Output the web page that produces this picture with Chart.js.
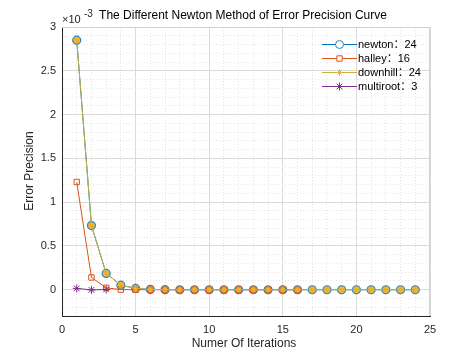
<!DOCTYPE html>
<html><head><meta charset="utf-8">
<script src="https://cdn.jsdelivr.net/npm/chart.js@4"></script>
<style>html,body{margin:0;padding:0;background:#fff}</style>
</head><body>
<canvas id="c" width="474" height="356"></canvas>
<script>
// values in units of 1e-3 (axis shows ×10^-3)
const newtonIter   = [1,2,3,4,5,6,7,8,9,10,11,12,13,14,15,16,17,18,19,20,21,22,23,24];
const newtonErr    = [2.85,0.733,0.186,0.052,0.015,0.003,0.001,0,0,0,0,0,0,0,0,0,0,0,0,0,0,0,0,0];
const halleyIter   = [1,2,3,4,5,6,7,8,9,10,11,12,13,14,15,16];
const halleyErr    = [1.23,0.14,0.022,0.001,0,0,0,0,0,0,0,0,0,0,0,0];
const downhillIter = [1,2,3,4,5,6,7,8,9,10,11,12,13,14,15,16,17,18,19,20,21,22,23,24];
const downhillErr  = [2.85,0.733,0.186,0.052,0.015,0.003,0.001,0,0,0,0,0,0,0,0,0,0,0,0,0,0,0,0,0];
const multirootIter= [1,2,3];
const multirootErr = [0.015,-0.002,0.003];
const seriesLabels = ['newton\uFF1A24','halley\uFF1A16','downhill\uFF1A24','multiroot\uFF1A3'];
const xTickLabels = [0,5,10,15,20,25];
const yTickLabels = [0,0.5,1,1.5,2,2.5,3];

const pts = (xs, ys) => xs.map((x, i) => ({x, y: ys[i]}));
const isMajorX = v => xTickLabels.some(t => Math.abs(t - v) < 1e-6);
const isMajorY = v => yTickLabels.some(t => Math.abs(t - v) < 1e-6) || Math.abs(v + 0.5) < 1e-6;

const legendPlugin = {
  id: 'customDeco',
  afterDraw(chart) {
    const ctx = chart.ctx, a = chart.chartArea;
    ctx.save();
    // top/right box
    ctx.strokeStyle = '#d0d0d0'; ctx.lineWidth = 1;
    ctx.beginPath();
    ctx.moveTo(a.left, a.top + 0.5); ctx.lineTo(a.right - 0.5, a.top + 0.5); ctx.lineTo(a.right - 0.5, a.bottom);
    ctx.stroke();
    // title
    ctx.fillStyle = '#000';
    ctx.font = '12px "Liberation Sans", Arial, sans-serif';
    ctx.textAlign = 'center'; ctx.textBaseline = 'middle';
    ctx.fillText('The Different Newton Method of Error Precision Curve', 243, 16);
    // exponent
    ctx.fillStyle = '#262626';
    ctx.font = '11px "Liberation Sans", Arial, sans-serif';
    ctx.textAlign = 'left';
    ctx.fillText('\u00D710', 62, 20);
    ctx.font = '10px "Liberation Sans", Arial, sans-serif';
    ctx.fillText('-3', 84, 14);
    // axis titles
    ctx.font = '12px "Liberation Sans", Arial, sans-serif';
    ctx.textAlign = 'center';
    ctx.fillText('Numer Of Iterations', 244, 344);
    ctx.save();
    ctx.translate(30, 171); ctx.rotate(-Math.PI / 2);
    ctx.fillText('Error Precision', 0, 0);
    ctx.restore();
    // legend
    const rows = [44.5, 58.5, 72.5, 86.5];
    chart.data.datasets.forEach((ds, i) => {
      const y = rows[i];
      ctx.strokeStyle = ds.borderColor; ctx.lineWidth = 1;
      ctx.beginPath(); ctx.moveTo(322, y); ctx.lineTo(357, y); ctx.stroke();
      ctx.strokeStyle = ds.pointBorderColor; ctx.fillStyle = '#fff';
      Chart.helpers.drawPoint(ctx, {pointStyle: ds.pointStyle, radius: ds.pointRadius, rotation: 0, borderWidth: 1}, 339.5, y);
      ctx.fillStyle = '#000';
      ctx.font = '11px "Liberation Sans", Arial, "Noto Sans CJK SC", sans-serif';
      ctx.textAlign = 'left'; ctx.textBaseline = 'middle';
      ctx.fillText(ds.label, 358, y + 0.5);
    });
    ctx.restore();
  }
};

new Chart(document.getElementById('c'), {
  type: 'line',
  data: {
    datasets: [
      {label: seriesLabels[0], data: pts(newtonIter, newtonErr), borderColor: '#0072BD', borderWidth: 1,
       pointStyle: 'circle', pointRadius: 4, pointBorderColor: '#2E86B8', pointBackgroundColor: '#E2B84E', pointBorderWidth: 1.2, order: 4},
      {label: seriesLabels[1], data: pts(halleyIter, halleyErr), borderColor: '#D95319', borderWidth: 1,
       pointStyle: 'rect', pointRadius: 3.8, pointBorderColor: '#D95319', pointBackgroundColor: 'rgba(0,0,0,0)', pointBorderWidth: 1, order: 3},
      {label: seriesLabels[2], data: pts(downhillIter, downhillErr), borderColor: '#C9B040', borderWidth: 1,
       pointStyle: 'star', pointRadius: 3, pointBorderColor: '#EDB120', pointBackgroundColor: '#EDB120', pointBorderWidth: 1, order: 2},
      {label: seriesLabels[3], data: pts(multirootIter, multirootErr), borderColor: '#7E2F8E', borderWidth: 1,
       pointStyle: 'star', pointRadius: 4, pointBorderColor: '#7E2F8E', pointBackgroundColor: '#7E2F8E', pointBorderWidth: 1, order: 1}
    ]
  },
  options: {
    responsive: false, animation: false, devicePixelRatio: 1,
    layout: {padding: {top: 27, right: 44, left: 0, bottom: 0}},
    plugins: {legend: {display: false}, tooltip: {enabled: false}, title: {display: false}},
    elements: {line: {tension: 0}},
    scales: {
      x: {
        type: 'linear', min: 0, max: 25,
        afterFit: s => { s.height = 40; },
        ticks: {stepSize: 1, autoSkip: false, maxRotation: 0, padding: 7, color: '#262626',
          font: {size: 11, family: '"Liberation Sans", Arial, sans-serif'},
          callback: v => isMajorX(v) ? String(v) : ''},
        grid: {drawTicks: false, color: c => (c.tick && isMajorX(c.tick.value)) ? '#dadada' : '#e4e4e4', lineWidth: 1},
        border: {display: true, color: '#262626', width: 1, dash: c => (c.tick && !isMajorX(c.tick.value)) ? [1, 2] : []}
      },
      y: {
        type: 'linear', min: -0.3, max: 3,
        afterFit: s => { s.width = 62; },
        ticks: {stepSize: 0.1, autoSkip: false, padding: 6, color: '#262626',
          font: {size: 11, family: '"Liberation Sans", Arial, sans-serif'},
          callback: v => yTickLabels.some(t => Math.abs(t - v) < 1e-6) ? String(Number(v.toFixed(1))) : ''},
        grid: {drawTicks: false, color: c => (c.tick && isMajorY(c.tick.value)) ? '#dadada' : '#e4e4e4', lineWidth: 1},
        border: {display: true, color: '#262626', width: 1, dash: c => (c.tick && !isMajorY(c.tick.value)) ? [1, 2] : []}
      }
    }
  },
  plugins: [legendPlugin]
});
</script>
</body></html>
